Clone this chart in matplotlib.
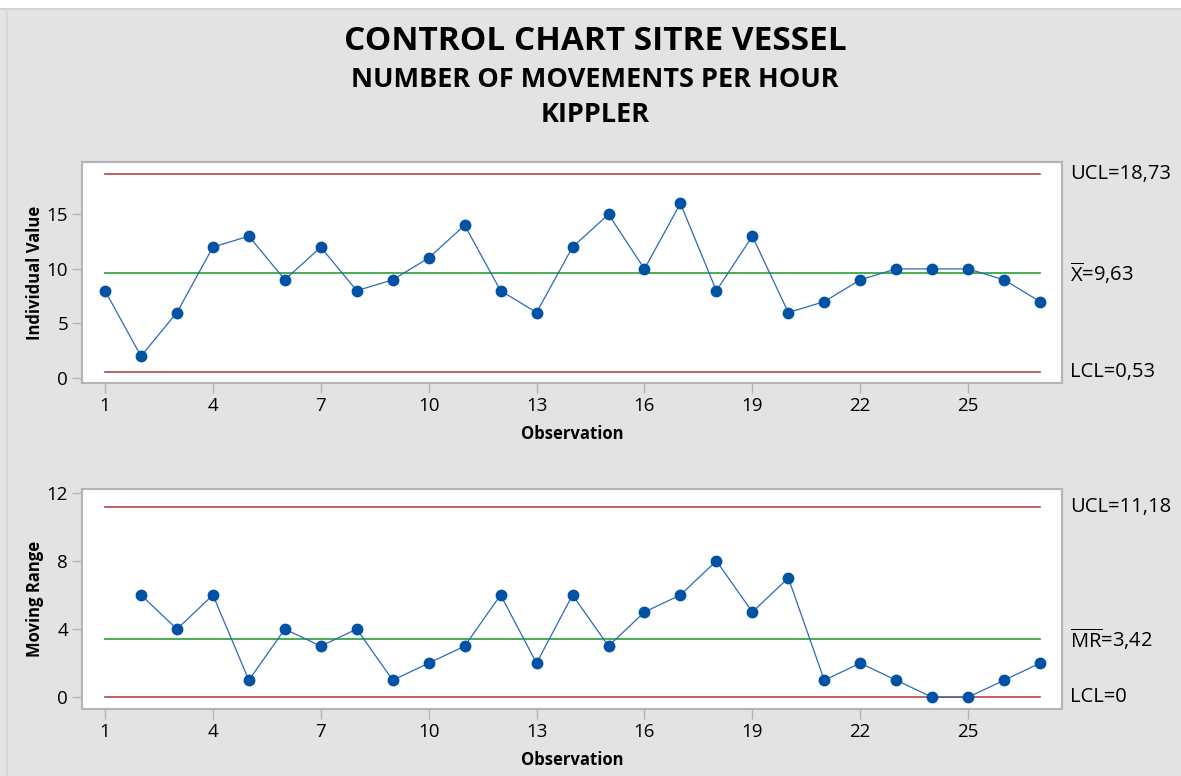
import matplotlib
matplotlib.use("Agg")
import matplotlib.pyplot as plt
import matplotlib.transforms as mtransforms
from matplotlib.patches import Rectangle
from matplotlib.lines import Line2D

plt.rcParams['font.family'] = ['Open Sans', 'DejaVu Sans']
plt.rcParams['mathtext.fontset'] = 'custom'
plt.rcParams['mathtext.rm'] = 'Open Sans'
plt.rcParams['mathtext.it'] = 'Open Sans'

observations = list(range(1, 28))
individual_values = [8, 2, 6, 12, 13, 9, 12, 8, 9, 11, 14, 8, 6, 12, 15, 10, 16, 8, 13, 6, 7, 9, 10, 10, 10, 9, 7]
mr_observations = list(range(2, 28))
moving_ranges = [6, 4, 6, 1, 4, 3, 4, 1, 2, 3, 6, 2, 6, 3, 5, 6, 8, 5, 7, 1, 2, 1, 0, 0, 1, 2]

i_ucl, i_mean, i_lcl = 18.73, 9.63, 0.53
mr_ucl, mr_mean, mr_lcl = 11.18, 3.42, 0.0
x_ticks = [1, 4, 7, 10, 13, 16, 19, 22, 25]
i_yticks = [0, 5, 10, 15]
mr_yticks = [0, 4, 8, 12]

W, H = 1181, 776
BG = '#e3e3e3'
RED = '#b5474b'
GREEN = '#3aa845'
BLUE = '#0052a5'
LINE_BLUE = '#2a6ab8'
FRAME = '#b4b4b4'

fig = plt.figure(figsize=(W / 100, H / 100), dpi=100, facecolor=BG)

# white strip at top and borders
fig.patches.append(Rectangle((0, 1 - 8 / H), 1, 8 / H, transform=fig.transFigure,
                             facecolor='white', edgecolor='none', zorder=0))
fig.lines.append(Line2D([0, 1], [1 - 8.5 / H, 1 - 8.5 / H], transform=fig.transFigure,
                        color='#cfcfcf', lw=1.2))
fig.lines.append(Line2D([6.5 / W, 6.5 / W], [0, 1 - 8.5 / H], transform=fig.transFigure,
                        color='#d6d6d6', lw=1.2))

fig.text(595 / W, 1 - 41 / H, 'CONTROL CHART SITRE VESSEL', ha='center', va='center',
         fontsize=24, fontweight='bold', color='black')
fig.text(595 / W, 1 - 80 / H, 'NUMBER OF MOVEMENTS PER HOUR', ha='center', va='center',
         fontsize=19.5, fontweight='bold', color='black')
fig.text(595 / W, 1 - 115 / H, 'KIPPLER', ha='center', va='center',
         fontsize=19.5, fontweight='bold', color='black')


def make_axes(top_px, bottom_px):
    left, right = 82, 1062
    return fig.add_axes([left / W, (H - bottom_px) / H, (right - left) / W, (bottom_px - top_px) / H])


def style(ax, ylim, yticks, ylabel):
    ax.set_facecolor('white')
    ax.set_xlim(0.36, 27.61)
    ax.set_ylim(*ylim)
    ax.set_xticks(x_ticks)
    ax.set_yticks(yticks)
    for s in ax.spines.values():
        s.set_color(FRAME)
        s.set_linewidth(1.5)
    ax.tick_params(axis='both', direction='out', length=7, width=1, color=FRAME,
                   labelsize=13.5, labelcolor='black', pad=3)
    ax.set_xlabel('Observation', fontsize=12, fontweight='bold', labelpad=7)
    ax.set_ylabel(ylabel, fontsize=12, fontweight='bold', labelpad=2)


tx = 1070 / W


def rlabel(ax, y, s):
    trans = mtransforms.blended_transform_factory(fig.transFigure, ax.transData)
    fig.text(tx, y, s, transform=trans, va='center', ha='left', fontsize=14.5, color='black')


# Individual chart
ax1 = make_axes(162, 383)
style(ax1, (-0.46, 19.8), i_yticks, 'Individual Value')
x0, x1 = observations[0], observations[-1]
ax1.plot([x0, x1], [i_ucl, i_ucl], color=RED, lw=1.2, zorder=2)
ax1.plot([x0, x1], [i_lcl, i_lcl], color=RED, lw=1.2, zorder=2)
ax1.plot([x0, x1], [i_mean, i_mean], color=GREEN, lw=1.3, zorder=2)
ax1.plot(observations, individual_values, color=LINE_BLUE, lw=0.9, marker='o',
         markersize=7.5, markerfacecolor=BLUE, markeredgecolor=BLUE, zorder=3)
rlabel(ax1, i_ucl, 'UCL=18,73')
rlabel(ax1, i_mean, r'$\overline{\mathrm{X}}$=9,63')
rlabel(ax1, i_lcl, 'LCL=0,53')

# Moving range chart
ax2 = make_axes(489, 709)
style(ax2, (-0.69, 12.22), mr_yticks, 'Moving Range')
ax2.plot([x0, x1], [mr_ucl, mr_ucl], color=RED, lw=1.2, zorder=2)
ax2.plot([x0, x1], [mr_lcl, mr_lcl], color=RED, lw=1.2, zorder=2)
ax2.plot([x0, x1], [mr_mean, mr_mean], color=GREEN, lw=1.3, zorder=2)
ax2.plot(mr_observations, moving_ranges, color=LINE_BLUE, lw=0.9, marker='o',
         markersize=7.5, markerfacecolor=BLUE, markeredgecolor=BLUE, zorder=3)
rlabel(ax2, mr_ucl, 'UCL=11,18')
rlabel(ax2, mr_mean, r'$\overline{\mathrm{MR}}$=3,42')
rlabel(ax2, mr_lcl, 'LCL=0')

fig.savefig('out.png', dpi=100, facecolor=BG)
